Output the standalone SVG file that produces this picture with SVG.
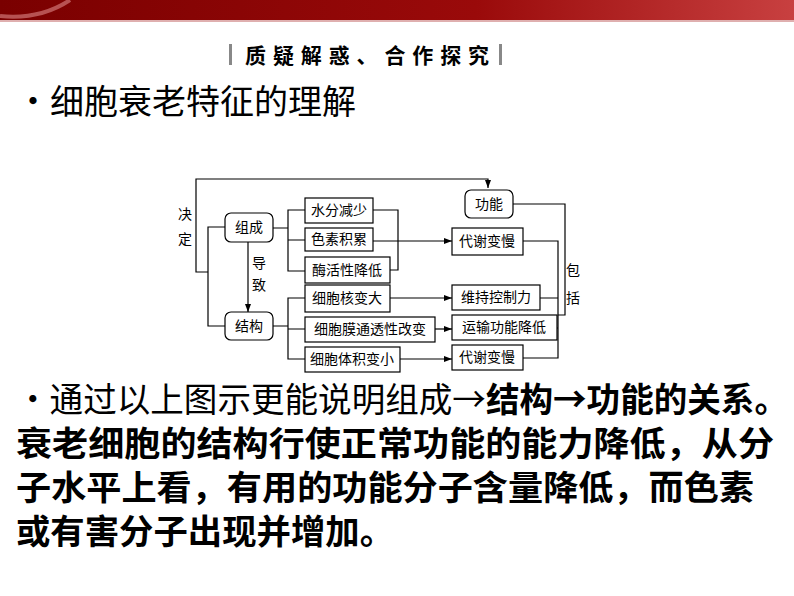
<svg xmlns="http://www.w3.org/2000/svg" width="794" height="596" viewBox="0 0 794 596">
<defs>
<linearGradient id="bg" x1="0" y1="0" x2="1" y2="0"><stop offset="0" stop-color="#7a0000"/><stop offset="0.6" stop-color="#9a0a0a"/><stop offset="1" stop-color="#c84040"/></linearGradient>
<marker id="ar" markerWidth="8" markerHeight="6" refX="8" refY="3" orient="auto" markerUnits="userSpaceOnUse"><path d="M0,0 L8,3 L0,6 Z" fill="#000"/></marker>
<style>
.b{fill:#fff;stroke:#000;stroke-width:1.2}
.t{font-family:"Noto Sans CJK SC",sans-serif;font-size:14px;fill:#000}
.l{fill:none;stroke:#000;stroke-width:1.2}
.big{font-family:"Noto Sans CJK SC",sans-serif;font-size:34px;fill:#000}
</style>
</defs>
<rect width="794" height="596" fill="#fff"/>
<rect x="0" y="0" width="794" height="20" fill="url(#bg)"/>
<line x1="0" y1="21" x2="794" y2="21" stroke="#c06060" stroke-width="1"/>
<path d="M0,16 Q40,20 70,0" fill="none" stroke="#d88" stroke-width="4" opacity="0.6"/>
<rect x="229" y="44" width="3" height="21" fill="#888"/>
<rect x="499" y="44" width="3" height="21" fill="#888"/>
<text x="245" y="63" font-family="Noto Sans CJK SC,sans-serif" font-size="21" font-weight="bold" textLength="244" lengthAdjust="spacing">质疑解惑、合作探究</text>
<text x="16" y="114" class="big">•细胞衰老特征的理解</text>
<g id="connectors">
<path class="l" d="M208,272 H196 V179 H488 V188" marker-end="url(#ar)"/>
<path class="l" d="M225,227 H208 V326 H225"/>
<path class="l" d="M248,242 V312" marker-end="url(#ar)"/>
<path class="l" d="M273,228 H288 M305,210 H288 V271 H305 M288,240 H305"/>
<path class="l" d="M373,210 H398 V270 H390"/>
<path class="l" d="M373,241 H452" marker-end="url(#ar)"/>
<path class="l" d="M273,326 H288 M305,298 H288 V359 H305 M288,329 H305"/>
<path class="l" d="M390,298 H452" marker-end="url(#ar)"/>
<path class="l" d="M435,329 H452" marker-end="url(#ar)"/>
<path class="l" d="M400,359 H452" marker-end="url(#ar)"/>
<path class="l" d="M523,241 H558 V358 H523 M540,298 H558 M557,328 H558"/>
<path class="l" d="M513,204 H565 V315 H558"/>
</g>
<text x="185" y="219" class="t" text-anchor="middle">决</text>
<text x="185" y="244" class="t" text-anchor="middle">定</text>
<text x="259" y="268" class="t" text-anchor="middle">导</text>
<text x="259" y="290" class="t" text-anchor="middle">致</text>
<text x="573" y="275" class="t" text-anchor="middle">包</text>
<text x="573" y="303" class="t" text-anchor="middle">括</text>
<g id="gongneng"><rect class="b" x="465" y="190" width="48" height="28" rx="6"/><text class="t" x="489" y="209" text-anchor="middle">功能</text></g>
<g id="zucheng"><rect class="b" x="225" y="213" width="48" height="29" rx="6"/><text class="t" x="249" y="232" text-anchor="middle">组成</text></g>
<g id="jiegou"><rect class="b" x="225" y="312" width="48" height="28" rx="6"/><text class="t" x="249" y="331" text-anchor="middle">结构</text></g>
<g id="n1"><rect class="b" x="305" y="198" width="68" height="25"/><text class="t" x="339" y="215" text-anchor="middle">水分减少</text></g>
<g id="n2"><rect class="b" x="305" y="228" width="68" height="23"/><text class="t" x="339" y="244" text-anchor="middle">色素积累</text></g>
<g id="n3"><rect class="b" x="305" y="257" width="85" height="26"/><text class="t" x="347" y="275" text-anchor="middle">酶活性降低</text></g>
<g id="n4"><rect class="b" x="305" y="285" width="85" height="27"/><text class="t" x="347" y="303" text-anchor="middle">细胞核变大</text></g>
<g id="n5"><rect class="b" x="305" y="317" width="130" height="25"/><text class="t" x="370" y="334" text-anchor="middle">细胞膜通透性改变</text></g>
<g id="n6"><rect class="b" x="305" y="347" width="95" height="25"/><text class="t" x="352" y="364" text-anchor="middle">细胞体积变小</text></g>
<g id="r1"><rect class="b" x="452" y="228" width="71" height="27"/><text class="t" x="487" y="246" text-anchor="middle">代谢变慢</text></g>
<g id="r2"><rect class="b" x="452" y="285" width="88" height="25"/><text class="t" x="496" y="302" text-anchor="middle">维持控制力</text></g>
<g id="r3"><rect class="b" x="452" y="315" width="105" height="25"/><text class="t" x="504" y="332" text-anchor="middle">运输功能降低</text></g>
<g id="r4"><rect class="b" x="452" y="345" width="71" height="25"/><text class="t" x="487" y="362" text-anchor="middle">代谢变慢</text></g>
<text x="16" y="412" class="big" textLength="772" lengthAdjust="spacingAndGlyphs">•通过以上图示更能说明组成→<tspan font-weight="bold">结构→功能的关系。</tspan></text>
<text x="16" y="456" class="big" font-weight="bold" textLength="758" lengthAdjust="spacingAndGlyphs">衰老细胞的结构行使正常功能的能力降低，从分</text>
<text x="16" y="500" class="big" font-weight="bold" textLength="738" lengthAdjust="spacingAndGlyphs">子水平上看，有用的功能分子含量降低，而色素</text>
<text x="16" y="544" class="big" font-weight="bold" textLength="378" lengthAdjust="spacingAndGlyphs">或有害分子出现并增加。</text>
</svg>
